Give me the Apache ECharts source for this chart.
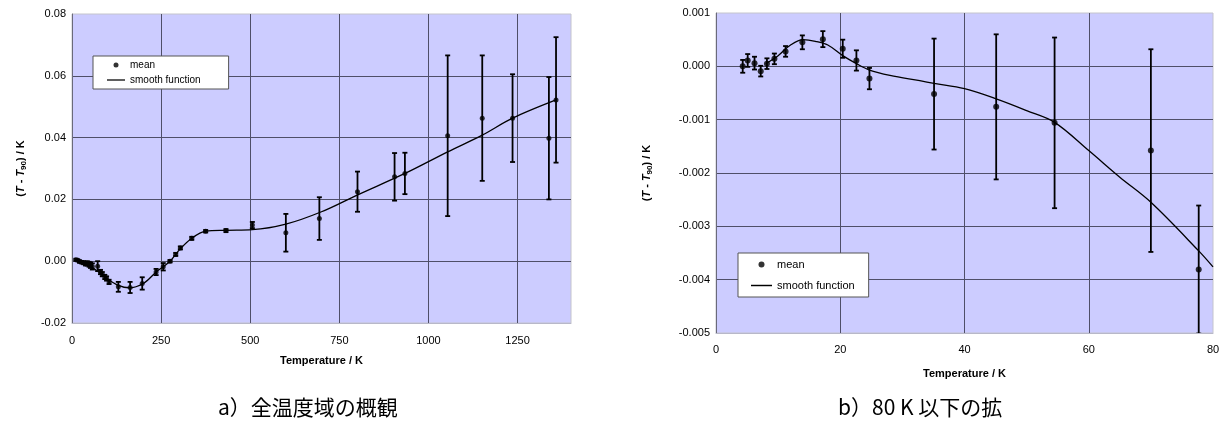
<!DOCTYPE html>
<html>
<head>
<meta charset="utf-8">
<script src="https://cdn.jsdelivr.net/npm/echarts@6/dist/echarts.min.js"></script>
<style>
html,body{margin:0;padding:0;background:#fff;}
#chart{width:1228px;height:430px;}
</style>
</head>
<body>
<div id="chart"></div>
<script>
// ---------- data: panel a (full range) ----------
const leftT = [11,16,21,27,33,38,43,48,52,57,72,80,85,92,97,104,130,163,197,236,256,275,291,304,336,375,432,506,600,694,801,905,934,1054,1151,1236,1338,1358];
const leftMean = [0.0005,0.0003,-0.0001,-0.0003,-0.0005,-0.0008,-0.0007,-0.0010,-0.0013,-0.0017,-0.0016,-0.0035,-0.0042,-0.0051,-0.0056,-0.0067,-0.0083,-0.0085,-0.0072,-0.0035,-0.0018,0.0,0.0022,0.0043,0.0074,0.0097,0.0099,0.0117,0.0092,0.0138,0.0225,0.0273,0.0284,0.0406,0.0463,0.0463,0.0398,0.0522];
const leftErr = [0.0003,0.0003,0.0004,0.0004,0.0005,0.0006,0.0007,0.0008,0.0009,0.0010,0.0016,0.0007,0.0007,0.0007,0.0007,0.0007,0.0016,0.0018,0.0020,0.0010,0.0012,0.0004,0.0005,0.0005,0.0005,0.0004,0.0005,0.0010,0.0061,0.0069,0.0065,0.0077,0.0067,0.0260,0.0203,0.0142,0.0198,0.0203];
const leftLineT = [10,30,50,75,100,130,160,200,236,275,300,336,375,432,506,600,700,800,934,1054,1151,1236,1358];
const leftLineV = [0.0003,-0.0005,-0.0015,-0.0035,-0.0058,-0.0078,-0.0086,-0.0072,-0.0035,0.0,0.0035,0.0074,0.0097,0.0100,0.0102,0.0120,0.0160,0.0214,0.0284,0.0354,0.0408,0.0463,0.0522];

// ---------- data: panel b (below 80 K) ----------
const rightT = [4.3,5.1,6.2,7.2,8.2,9.4,11.2,13.9,17.2,20.4,22.6,24.7,35.1,45.1,54.5,70.0,77.7];
const rightMean = [0.0,0.00011,0.00006,-0.00009,0.00005,0.00014,0.00028,0.00045,0.00051,0.00033,0.00011,-0.00023,-0.00052,-0.00076,-0.00106,-0.00158,-0.00381];
const rightErr = [0.00012,0.00012,0.00012,0.0001,0.0001,0.0001,0.0001,0.00013,0.00015,0.00017,0.00019,0.0002,0.00104,0.00136,0.0016,0.0019,0.0012];
const rightLineT = [8,10,12,14,16,18,20.4,22.6,24.7,28,32.8,35.1,40,45.1,50,54.5,60,65,70,77.7,80];
const rightLineV = [0.00005,0.0002,0.0004,0.0005,0.00047,0.0004,0.0002,0.00005,-0.00007,-0.00017,-0.00027,-0.00032,-0.00042,-0.00061,-0.00083,-0.00105,-0.00158,-0.00208,-0.00255,-0.00346,-0.00376];

// ---------- labels ----------
const xName = 'Temperature / K';
const legendNames = ['mean', 'smooth function'];
const captionA = 'a）全温度域の概観';
const captionB = 'b）80 K 以下の拡';

const FONT = 'Liberation Sans, Arial, sans-serif';
const GRID_COLOR = '#4f4f68';

function pairs(xs, ys){ return xs.map((x,i)=>[x, ys[i]]); }
function errData(xs, m, e){ return xs.map((x,i)=>[x, m[i]-e[i], m[i]+e[i]]); }

function errRender(cap, lw){
  return function(params, api){
    const x = api.value(0);
    const p1 = api.coord([x, api.value(2)]);
    const p2 = api.coord([x, api.value(1)]);
    const st = {stroke:'#000', lineWidth:lw};
    return {type:'group', children:[
      {type:'line', shape:{x1:p1[0],y1:p1[1],x2:p2[0],y2:p2[1]}, style:st},
      {type:'line', shape:{x1:p1[0]-cap,y1:p1[1],x2:p1[0]+cap,y2:p1[1]}, style:st},
      {type:'line', shape:{x1:p2[0]-cap,y1:p2[1],x2:p2[0]+cap,y2:p2[1]}, style:st}
    ]};
  };
}

const yNameRich = {
  n:{fontFamily:FONT, fontWeight:'bold', fontSize:11, color:'#000', lineHeight:14},
  i:{fontFamily:FONT, fontWeight:'bold', fontStyle:'italic', fontSize:11, color:'#000', lineHeight:14},
  s:{fontFamily:FONT, fontWeight:'bold', fontSize:8, color:'#000', lineHeight:14, verticalAlign:'bottom', padding:[5,0,0,0]}
};
const yName = '{n|(}{i|T}{n| - }{i|T}{s|90}{n|) / K}';

function xAxisCfg(idx, max, interval, gap, margin){
  return {
    type:'value', gridIndex:idx, min:0, max:max, interval:interval,
    name:xName, nameLocation:'middle', nameGap:gap,
    nameTextStyle:{fontFamily:FONT, fontWeight:'bold', fontSize:11, color:'#000'},
    axisLine:{show:true, onZero:false, lineStyle:{color:'#b8b8c8', width:1}},
    axisTick:{show:false},
    axisLabel:{fontFamily:FONT, fontSize:11, color:'#000', margin:margin, showMaxLabel: idx===1,
      formatter:v=>String(v)},
    splitLine:{show:true, showMinLine:false, showMaxLine:false, lineStyle:{color:GRID_COLOR, width:1}}
  };
}
function yAxisCfg(idx, min, max, interval, digits, gap){
  return {
    type:'value', gridIndex:idx, min:min, max:max, interval:interval,
    name:yName, nameLocation:'middle', nameGap:gap, nameRotate:90,
    nameTextStyle:{rich:yNameRich},
    axisLine:{show:true, onZero:false, lineStyle:{color:'#6a6a7a', width:1}},
    axisTick:{show:false},
    axisLabel:{fontFamily:FONT, fontSize:11, color:'#000', margin:6,
      formatter:v=>Number(v).toFixed(digits)},
    splitLine:{show:true, showMinLine:false, showMaxLine:false, lineStyle:{color:GRID_COLOR, width:1}}
  };
}

const LINE_ICON = 'path://M0,0L20,0L20,1.4L0,1.4Z';

const chart = echarts.init(document.getElementById('chart'), null, {renderer:'canvas'});
chart.setOption({
  animation:false,
  backgroundColor:'#fff',
  grid:[
    {left:72, top:14, width:499, height:309, show:true, backgroundColor:'#CCCCFF', borderColor:'#c4c4cc', borderWidth:1},
    {left:716, top:13, width:497, height:320, show:true, backgroundColor:'#CCCCFF', borderColor:'#c4c4cc', borderWidth:1}
  ],
  xAxis:[ xAxisCfg(0, 1400, 250, 32, 12), xAxisCfg(1, 80, 20, 35, 11) ],
  yAxis:[ yAxisCfg(0, -0.02, 0.08, 0.02, 2, 44), yAxisCfg(1, -0.005, 0.001, 0.001, 3, 62) ],
  legend:[
    {data:[{name:legendNames[0], icon:'circle'}, {name:legendNames[1], icon:LINE_ICON}],
     orient:'vertical', left:93, top:56, itemWidth:18, itemHeight:5, itemGap:5,
     padding:[4,28,4,14], backgroundColor:'#fff', borderColor:'#555', borderWidth:1,
     selectedMode:false, textStyle:{fontFamily:FONT, fontSize:10, color:'#000'}},
    {data:[{name:legendNames[0], icon:'circle'}, {name:legendNames[1], icon:LINE_ICON}],
     orient:'vertical', left:738, top:253, itemWidth:21, itemHeight:6, itemGap:10,
     padding:[6,14,6,13], backgroundColor:'#fff', borderColor:'#555', borderWidth:1,
     selectedMode:false, textStyle:{fontFamily:FONT, fontSize:11, color:'#000'}}
  ],
  graphic:[
    {type:'text', left:218, top:397, style:{text:captionA, font:'21px "Noto Sans CJK JP"', fill:'#000'}},
    {type:'text', left:838, top:397, style:{text:captionB, font:'21px "Noto Sans CJK JP"', fill:'#000'}}
  ],
  series:[
    {type:'custom', xAxisIndex:0, yAxisIndex:0, renderItem:errRender(2.5, 1.8), data:errData(leftT, leftMean, leftErr), z:3, silent:true},
    {name:legendNames[1], type:'line', xAxisIndex:0, yAxisIndex:0, data:pairs(leftLineT, leftLineV), smooth:0.35, symbol:'none', lineStyle:{color:'#000', width:1.3}, itemStyle:{color:'#000'}, z:4},
    {name:legendNames[0], type:'scatter', xAxisIndex:0, yAxisIndex:0, data:pairs(leftT, leftMean), symbol:'circle', symbolSize:5, itemStyle:{color:'#000'}, z:5},
    {type:'custom', xAxisIndex:1, yAxisIndex:1, renderItem:errRender(2.5, 1.8), data:errData(rightT, rightMean, rightErr), z:3, silent:true, clip:true},
    {name:legendNames[1], type:'line', xAxisIndex:1, yAxisIndex:1, data:pairs(rightLineT, rightLineV), smooth:0.35, symbol:'none', lineStyle:{color:'#000', width:1.3}, itemStyle:{color:'#000'}, z:4},
    {name:legendNames[0], type:'scatter', xAxisIndex:1, yAxisIndex:1, data:pairs(rightT, rightMean), symbol:'circle', symbolSize:6, itemStyle:{color:'#000'}, z:5}
  ]
});
</script>
</body>
</html>
